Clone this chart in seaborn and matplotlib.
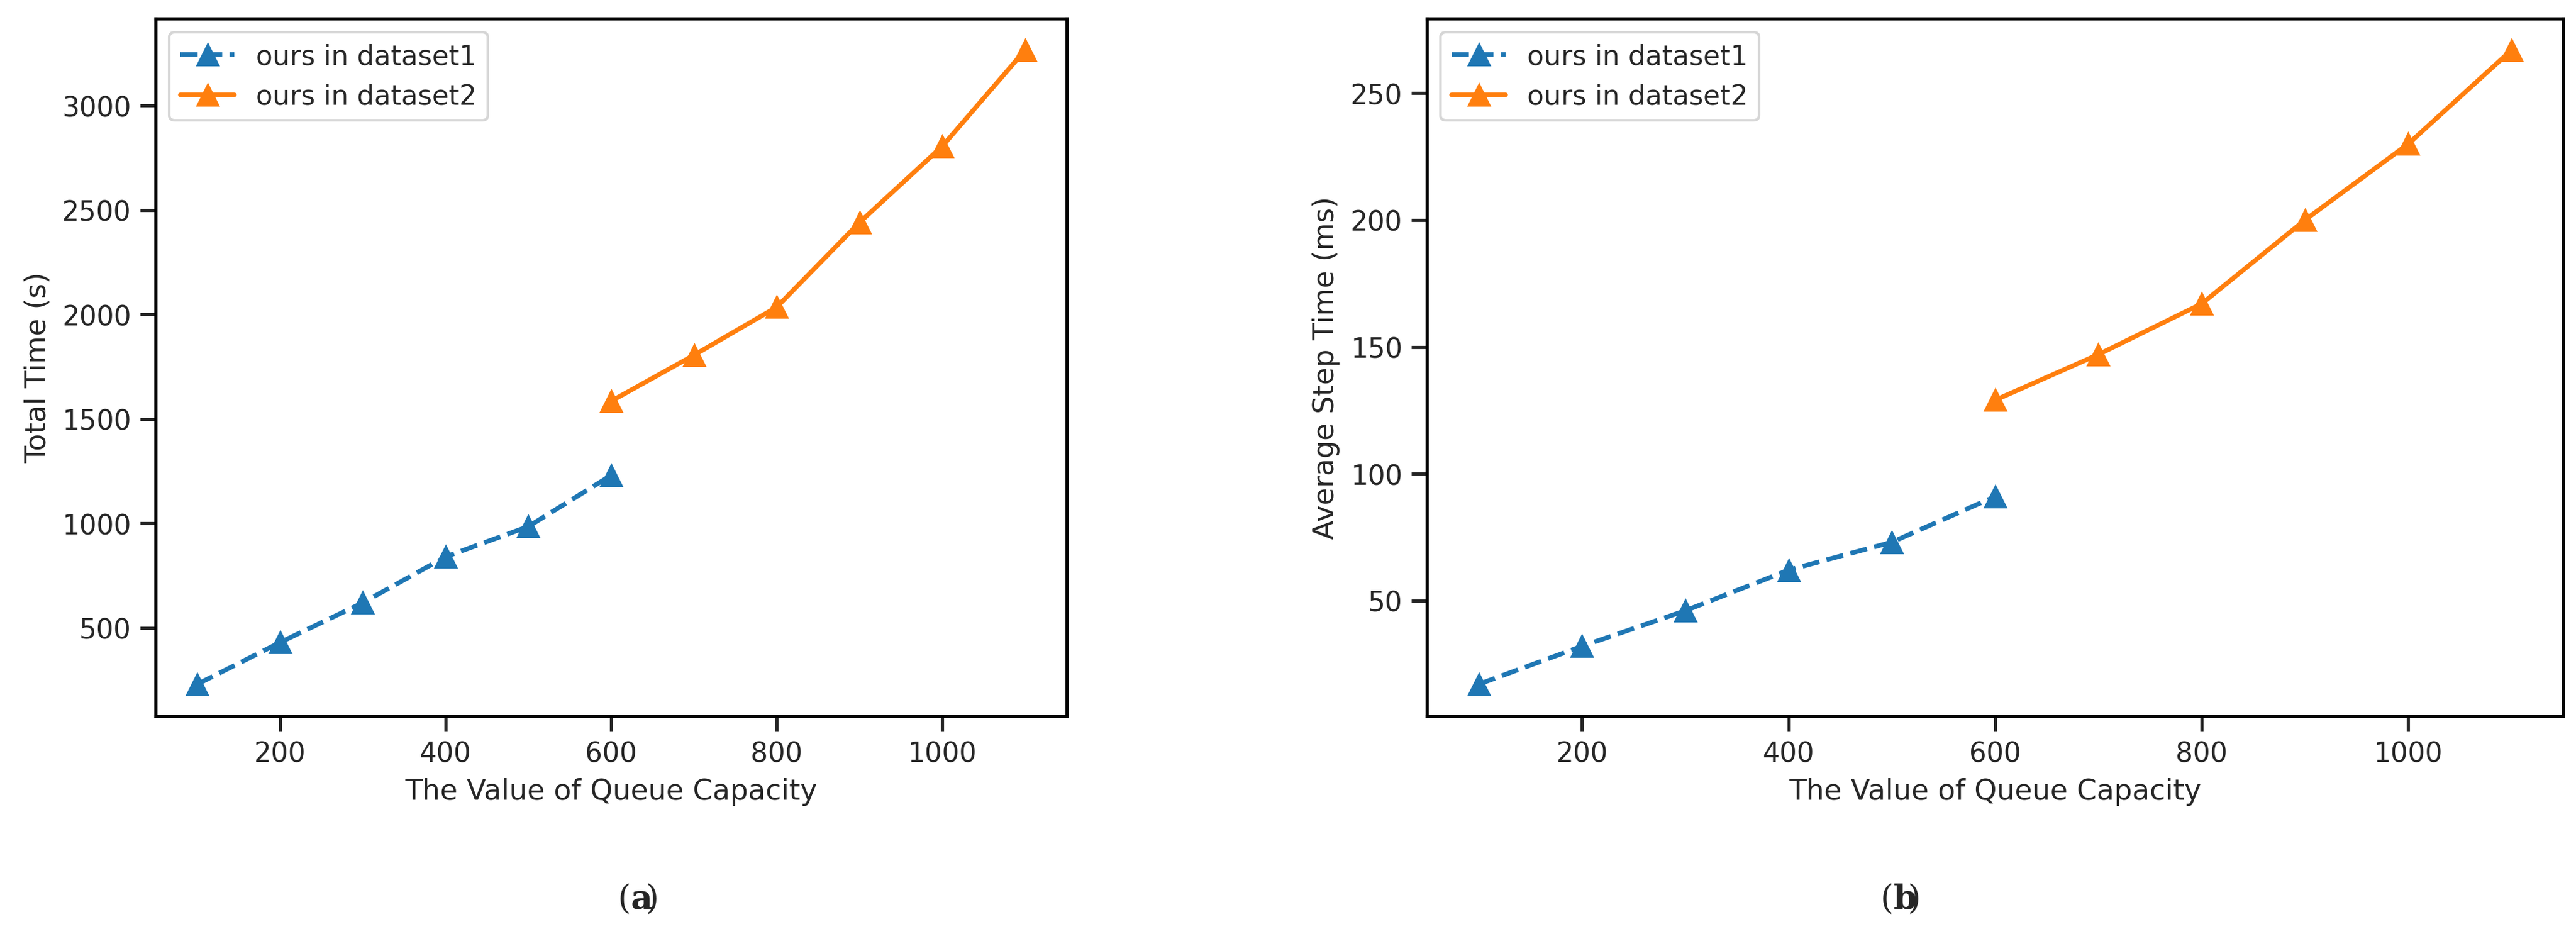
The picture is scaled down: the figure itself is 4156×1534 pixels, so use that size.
import matplotlib
matplotlib.use("Agg")
import matplotlib.pyplot as plt
import seaborn as sns

sns.set_theme(style="ticks")
plt.rcParams['font.family'] = ['DejaVu Sans']

x1 = [100, 200, 300, 400, 500, 600]
x2 = [600, 700, 800, 900, 1000, 1100]
total1 = [230, 430, 620, 840, 985, 1230]
total2 = [1585, 1805, 2035, 2440, 2805, 3265]
step1 = [17, 32, 46, 62, 73, 91]
step2 = [129, 147, 167, 200, 230, 267]
label1 = "ours in dataset1"
label2 = "ours in dataset2"
xlabel = "The Value of Queue Capacity"
ylabels = ["Total Time (s)", "Average Step Time (ms)"]
panel_tags = ["a", "b"]

fig = plt.figure(figsize=(4156/300, 1535/300), dpi=300)
axes = [fig.add_axes([0.0605, 0.247, 0.3535, 0.733]),
        fig.add_axes([0.554, 0.247, 0.441, 0.733])]
blue, orange = "#1f77b4", "#ff7f0e"
for ax, y1, y2, yl, tag, xc in zip(axes, [total1, step1], [total2, step2], ylabels, panel_tags, [0.245, 0.735]):
    sns.lineplot(x=x1, y=y1, ax=ax, color=blue, linestyle="--", marker="^", markersize=8,
                 markeredgecolor=blue, label=label1, linewidth=1.8)
    sns.lineplot(x=x2, y=y2, ax=ax, color=orange, linestyle="-", marker="^", markersize=8,
                 markeredgecolor=orange, label=label2, linewidth=1.8)
    ax.set_xlabel(xlabel, fontsize=11)
    ax.set_ylabel(yl, fontsize=11)
    ax.tick_params(labelsize=10.5)
    ax.set_xticks([200, 400, 600, 800, 1000])
    for s in ax.spines.values():
        s.set_visible(True); s.set_color("black")
    leg = ax.legend(loc="upper left", fontsize=10.5)
    for h in leg.get_lines():
        h.set_markersize(8)
    fig.text(xc, 0.045, "(", ha="right", fontsize=13, family="DejaVu Serif")
    fig.text(xc, 0.045, tag, ha="left", fontsize=13, family="DejaVu Serif", fontweight="bold")
    fig.text(xc + 0.0055, 0.045, ")", ha="left", fontsize=13, family="DejaVu Serif")
axes[0].set_yticks([500, 1000, 1500, 2000, 2500, 3000])
axes[1].set_yticks([50, 100, 150, 200, 250])
fig.savefig("out.png", dpi=300)
